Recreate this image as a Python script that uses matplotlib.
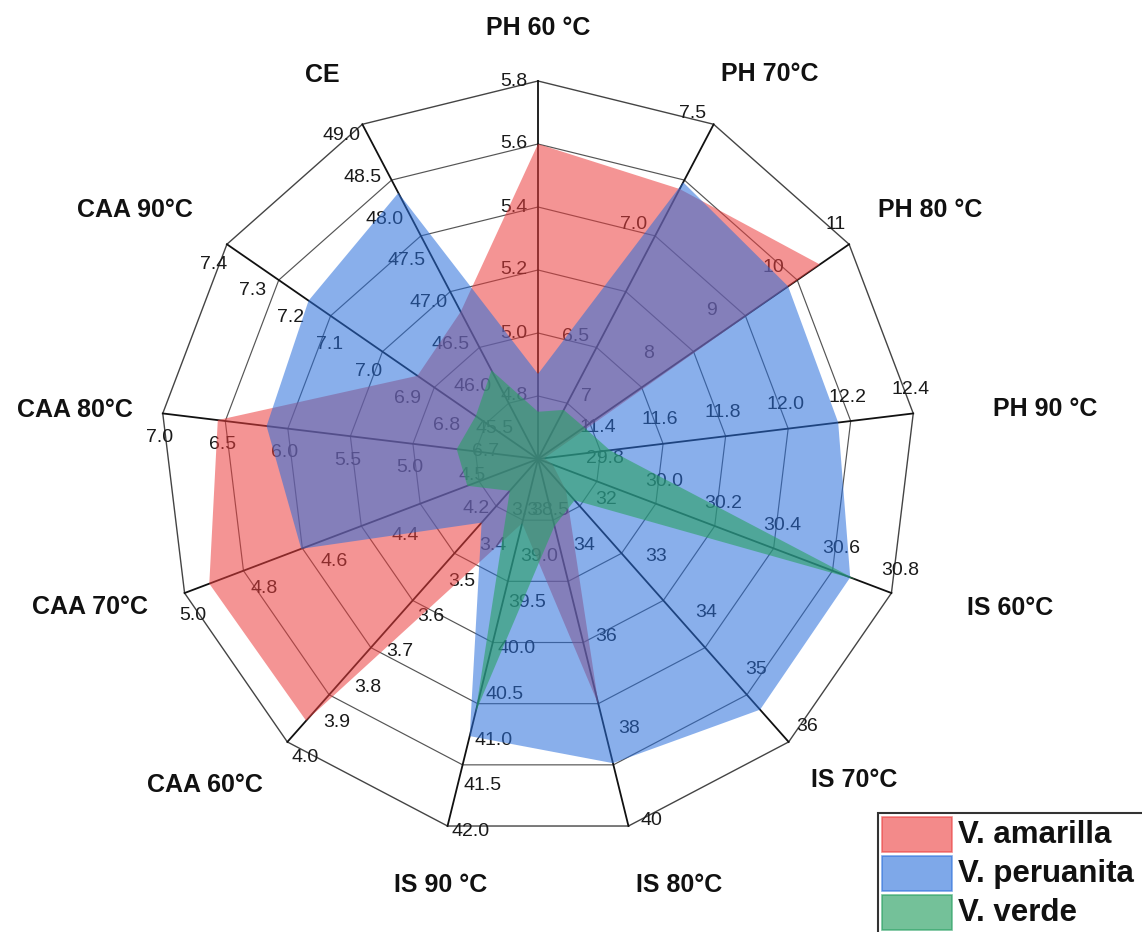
import numpy as np
import matplotlib
matplotlib.use("Agg")
import matplotlib.pyplot as plt
from matplotlib.patches import Polygon, Rectangle

# ---------------- data ----------------
axis_titles = ["PH 60 °C", "PH 70°C", "PH 80 °C", "PH 90 °C", "IS 60°C", "IS 70°C",
               "IS 80°C", "IS 90 °C", "CAA 60°C", "CAA 70°C", "CAA 80°C", "CAA 90°C", "CE"]
axis_min = [4.6, 6.0, 6, 11.2, 29.6, 31, 32, 38.0, 3.2, 4.0, 4.0, 6.6, 45.0]
axis_max = [5.8, 7.5, 11, 12.4, 30.8, 36, 40, 42.0, 4.0, 5.0, 7.0, 7.4, 49.0]
axis_step = [0.2, 0.5, 1, 0.2, 0.2, 1, 2, 0.5, 0.1, 0.2, 0.5, 0.1, 0.5]
axis_decimals = [1, 1, 0, 1, 1, 0, 0, 1, 1, 1, 1, 1, 1]

series_names = ["V. amarilla", "V. peruanita", "V. verde"]
amarilla = [5.60, 7.21, 10.53, 11.22, 29.65, 31.56, 37.36, 38.70, 3.94, 4.93, 6.56, 6.91, 46.76]
peruanita = [4.87, 7.24, 10.02, 12.16, 30.66, 35.43, 38.63, 41.02, 3.38, 4.67, 6.17, 7.19, 48.18]
verde = [4.75, 6.22, 6.74, 11.43, 30.68, 31.73, 33.46, 40.76, 3.29, 4.20, 4.65, 6.76, 46.06]
series_values = [amarilla, peruanita, verde]

# ---------------- style / layout ----------------
series_colors = [(0.92, 0.24, 0.24), (0.16, 0.43, 0.86), (0.16, 0.63, 0.39)]
series_alpha = [0.55, 0.55, 0.60]
W, H = 1142, 932
CX, CY, R = 538, 459, 378
N_RINGS = 6
LABEL_OFF = 24
# title offsets (pixels) from the outer end of each spoke
title_offsets = [(0, -53), (56, -50), (81, -34), (132, -4), (119, 15), (66, 38),
                 (51, 59), (-7, 59), (-82, 43), (-95, 14), (-88, -3), (-92, -34), (-40, -49)]

plt.rcParams['font.family'] = ['Liberation Sans', 'DejaVu Sans']

fig = plt.figure(figsize=(W / 100, H / 100), dpi=100)
ax = fig.add_axes([0, 0, 1, 1])
ax.set_xlim(0, W)
ax.set_ylim(H, 0)
ax.axis('off')

n = len(axis_titles)
theta = np.arange(n) * 2 * np.pi / n
ux = np.sin(theta)
uy = -np.cos(theta)


def point(i, r):
    return CX + r * ux[i], CY + r * uy[i]


def radius(i, v):
    f = (v - axis_min[i]) / (axis_max[i] - axis_min[i])
    return R * max(f, 0.0)


# grid rings
for k in range(1, N_RINGS + 1):
    rr = R * k / N_RINGS
    xs = [point(i, rr)[0] for i in range(n)] + [point(0, rr)[0]]
    ys = [point(i, rr)[1] for i in range(n)] + [point(0, rr)[1]]
    ax.plot(xs, ys, color='#444444' if k == N_RINGS else '#555555',
            lw=1.0 if k == N_RINGS else 0.85, zorder=1)
# spokes
for i in range(n):
    x1, y1 = point(i, R)
    ax.plot([CX, x1], [CY, y1], color='#111111', lw=1.3, zorder=1.1)

# tick labels (per-axis scales)
for i in range(n):
    ndiv = int(round((axis_max[i] - axis_min[i]) / axis_step[i]))
    ox = -np.cos(theta[i]) * LABEL_OFF
    oy = -np.sin(theta[i]) * LABEL_OFF
    for k in range(1, ndiv + 1):
        val = axis_min[i] + k * axis_step[i]
        px, py = point(i, R * k / ndiv)
        txt = f"{val:.{axis_decimals[i]}f}"
        ax.text(px + ox, py + oy, txt, ha='center', va='center', fontsize=14,
                color='#1a1a1a', zorder=2)

# series polygons
for s, vals in enumerate(series_values):
    pts = [point(i, radius(i, vals[i])) for i in range(n)]
    poly = Polygon(pts, closed=True, facecolor=series_colors[s], alpha=series_alpha[s],
                   edgecolor='none', zorder=3 + s)
    ax.add_patch(poly)

# axis titles
for i in range(n):
    x1, y1 = point(i, R)
    ax.text(x1 + title_offsets[i][0], y1 + title_offsets[i][1], axis_titles[i],
            ha='center', va='center', fontsize=18, fontweight='bold', color='#111111',
            zorder=8)

# legend
LX, LY = 878, 813
ax.add_patch(Rectangle((LX, LY), 300, 160, facecolor='white', edgecolor='#333333',
                       lw=1.5, zorder=9, clip_on=False))
for s, name in enumerate(series_names):
    sy = LY + 4 + s * 39
    ax.add_patch(Rectangle((LX + 4, sy), 70, 35, facecolor=series_colors[s],
                           alpha=series_alpha[s] + 0.05, edgecolor=series_colors[s],
                           lw=1.2, zorder=10))
    ax.text(LX + 80, sy + 18, name, ha='left', va='center', fontsize=22.5,
            fontweight='bold', color='#111111', zorder=11)

fig.savefig('out.png', dpi=100)
